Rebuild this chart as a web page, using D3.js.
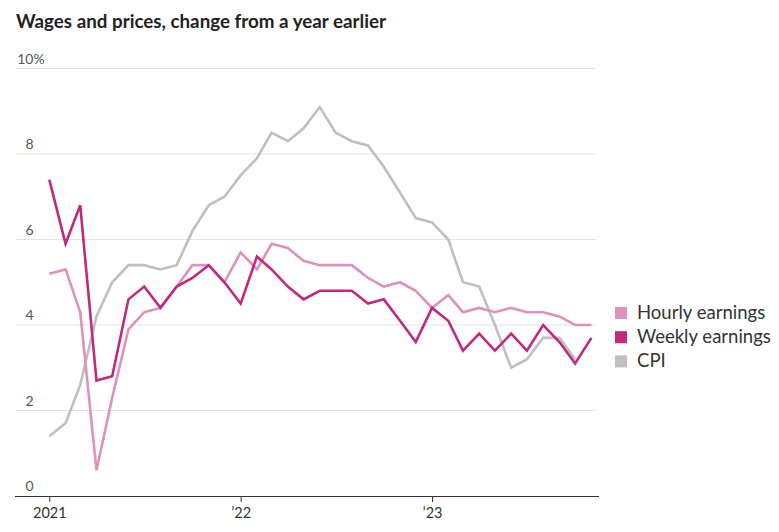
<!DOCTYPE html>
<html>
<head>
<meta charset="utf-8">
<script src="https://cdn.jsdelivr.net/npm/d3@7"></script>
<style>
  html, body { margin: 0; padding: 0; background: #fff; }
  svg { display: block; }
  text { font-family: Lato, "Noto Sans", sans-serif; }
</style>
</head>
<body>
<svg id="chart" width="779" height="532"></svg>
<script>
// ---- Data ----
const startMonth = "2021-01";
const hourlyEarnings = [5.2,5.3,4.3,0.6,2.3,3.9,4.3,4.4,4.9,5.4,5.4,5.0,5.7,5.3,5.9,5.8,5.5,5.4,5.4,5.4,5.1,4.9,5.0,4.8,4.4,4.7,4.3,4.4,4.3,4.4,4.3,4.3,4.2,4.0,4.0];
const weeklyEarnings = [7.4,5.9,6.8,2.7,2.8,4.6,4.9,4.4,4.9,5.1,5.4,5.0,4.5,5.6,5.3,4.9,4.6,4.8,4.8,4.8,4.5,4.6,4.1,3.6,4.4,4.1,3.4,3.8,3.4,3.8,3.4,4.0,3.6,3.1,3.7];
const cpi = [1.4,1.7,2.6,4.2,5.0,5.4,5.4,5.3,5.4,6.2,6.8,7.0,7.5,7.9,8.5,8.3,8.6,9.1,8.5,8.3,8.2,7.7,7.1,6.5,6.4,6.0,5.0,4.9,4.0,3.0,3.2,3.7,3.7,3.2];
const seriesNames = ["Hourly earnings", "Weekly earnings", "CPI"];
const seriesColors = ["#de92b8", "#c0297c", "#bfbfbf"];
const yTicks = [0, 2, 4, 6, 8, 10];
const yTickLabels = ["0", "2", "4", "6", "8", "10%"];
const xTickDates = ["2021-01", "2022-01", "2023-01"];
const xTickLabels = ["2021", "\u201922", "\u201923"];
const title = "Wages and prices, change from a year earlier";

// ---- Setup ----
const svg = d3.select("#chart");
const parse = d3.timeParse("%Y-%m");
const t0 = parse(startMonth);
const dateAt = i => d3.timeMonth.offset(t0, i);

const x = d3.scaleTime()
  .domain([t0, dateAt(34)])
  .range([49.3, 591.4]);
const y = d3.scaleLinear().domain([0, 10]).range([496, 68.5]);
const gridLeft = 16, gridRight = 596;

// fit a text element's font size to a target width
function fitWidth(sel, target) {
  const node = sel.node();
  const fs = parseFloat(sel.attr("font-size"));
  const w = node.getComputedTextLength();
  if (w > 0) sel.attr("font-size", (fs * target / w).toFixed(2));
}

// Title
const tt = svg.append("text")
  .attr("x", 16).attr("y", 28)
  .attr("font-size", 16.5).attr("font-weight", 700)
  .attr("fill", "#222")
  .text(title);
fitWidth(tt, 370);

// Gridlines
svg.append("g").selectAll("line")
  .data(yTicks.filter(d => d > 0))
  .join("line")
  .attr("x1", gridLeft).attr("x2", gridRight)
  .attr("y1", d => y(d)).attr("y2", d => y(d))
  .attr("stroke", "#e3e3e3").attr("stroke-width", 1);

// Y labels (right-aligned numbers, % hangs to the right)
const yl = svg.append("g");
yTicks.forEach((d, i) => {
  const lab = yTickLabels[i];
  const num = lab.replace("%", "");
  yl.append("text")
    .attr("x", 33.5).attr("y", y(d) - 5)
    .attr("text-anchor", "end")
    .attr("font-size", 14).attr("fill", "#555")
    .text(num);
  if (lab.endsWith("%")) {
    yl.append("text")
      .attr("x", 33.5).attr("y", y(d) - 5)
      .attr("font-size", 14).attr("fill", "#555")
      .text("%");
  }
});

// X axis
const xAxis = d3.axisBottom(x)
  .tickValues(xTickDates.map(parse))
  .tickFormat((d, i) => xTickLabels[i])
  .tickSize(6)
  .tickSizeOuter(0);
const gx = svg.append("g").attr("transform", `translate(0,${y(0)})`).call(xAxis);
gx.select(".domain").remove();
gx.append("line")
  .attr("x1", gridLeft - 1).attr("x2", gridRight + 3)
  .attr("y1", 0.5).attr("y2", 0.5)
  .attr("stroke", "#333").attr("stroke-width", 1.2);
gx.selectAll(".tick line").attr("stroke", "#333");
gx.selectAll(".tick text")
  .attr("font-family", "Lato, 'Noto Sans', sans-serif")
  .attr("font-size", 14.5).attr("fill", "#333").attr("dy", "0.9em");

// Lines
const line = d3.line()
  .x((d, i) => x(dateAt(i)))
  .y(d => y(d));
const order = [[cpi, 2], [hourlyEarnings, 0], [weeklyEarnings, 1]];
order.forEach(([data, ci]) => {
  svg.append("path")
    .datum(data)
    .attr("d", line)
    .attr("fill", "none")
    .attr("stroke", seriesColors[ci])
    .attr("stroke-width", 2.6)
    .attr("stroke-linejoin", "miter");
});

// Legend
const lg = svg.append("g").attr("transform", "translate(615,313)");
const legTexts = [];
seriesNames.forEach((n, i) => {
  const g = lg.append("g").attr("transform", `translate(0,${i * 24.2})`);
  g.append("rect").attr("x", 0).attr("y", -6).attr("width", 12).attr("height", 12)
    .attr("fill", seriesColors[i]);
  legTexts.push(g.append("text").attr("x", 22).attr("y", 6)
    .attr("font-size", 17.5).attr("fill", "#333")
    .text(n));
});
// size legend so "Weekly earnings" spans its reference width
const wNode = legTexts[1].node();
const legFs = 17.5 * 134 / wNode.getComputedTextLength();
legTexts.forEach(t => t.attr("font-size", legFs.toFixed(2)));
</script>
</body>
</html>
